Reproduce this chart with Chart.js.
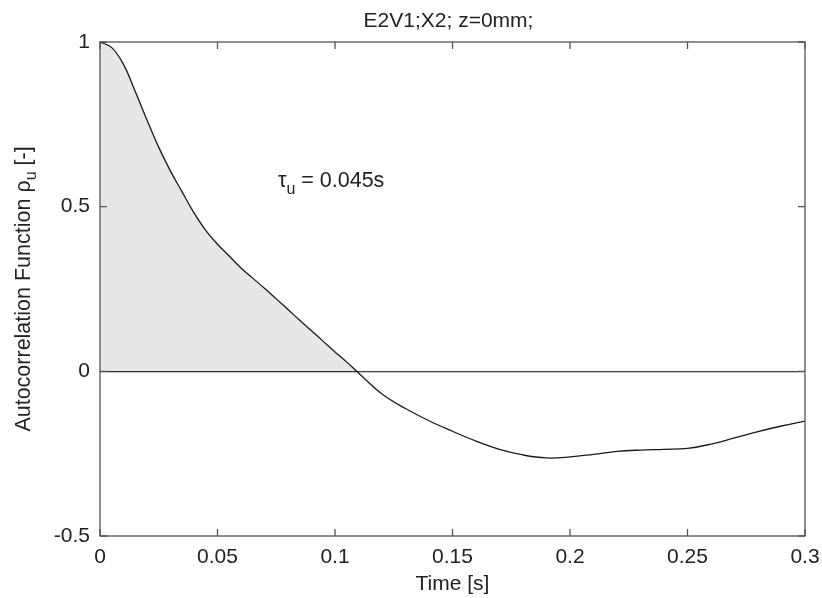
<!DOCTYPE html>
<html>
<head>
<meta charset="utf-8">
<script src="https://cdn.jsdelivr.net/npm/chart.js@4.4.1/dist/chart.umd.min.js"></script>
<style>
  html, body { margin: 0; padding: 0; background: #fff; }
  #wrap { width: 822px; height: 598px; }
</style>
</head>
<body>
<div id="wrap"><canvas id="c"></canvas></div>
<script>
/* ---------- data ---------- */
const timeS = [0, 0.005, 0.01, 0.015, 0.02, 0.025, 0.03, 0.035, 0.04, 0.045,
  0.05, 0.055, 0.06, 0.065, 0.07, 0.075, 0.08, 0.085, 0.09, 0.095,
  0.1, 0.105, 0.11, 0.12, 0.13, 0.14, 0.15, 0.16, 0.17, 0.18,
  0.19, 0.2, 0.21, 0.22, 0.23, 0.24, 0.25, 0.26, 0.27, 0.28, 0.29, 0.3];
const rhoU = [1.0, 0.983, 0.932, 0.850, 0.763, 0.680, 0.608, 0.544, 0.481, 0.428,
  0.386, 0.350, 0.314, 0.283, 0.252, 0.220, 0.188, 0.155, 0.123, 0.091,
  0.059, 0.028, -0.005, -0.069, -0.113, -0.150, -0.182, -0.212, -0.237, -0.254,
  -0.263, -0.260, -0.252, -0.243, -0.239, -0.237, -0.234, -0.221, -0.202, -0.183, -0.166, -0.151];

const xTickValues = [0, 0.05, 0.1, 0.15, 0.2, 0.25, 0.3];
const xTickLabels = ['0', '0.05', '0.1', '0.15', '0.2', '0.25', '0.3'];
const yTickValues = [-0.5, 0, 0.5, 1];
const yTickLabels = ['-0.5', '0', '0.5', '1'];

const chartTitle = 'E2V1;X2; z=0mm;';
const xTitle = 'Time [s]';
const yTitle = ['Autocorrelation Function ρ', 'u', ' [-]'];
const tauText = ['τ', 'u', ' = 0.045s'];
const tauAt = { x: 0.0757, y: 0.56 };

/* ---------- style ---------- */
const FONT = '"Liberation Sans", Arial, sans-serif';
const TXT = '#222';
const FRAME = '#555';

// draws "main + subscript + rest" starting at (x, y) baseline
function drawSubText(ctx, parts, x, y, size, subSize, subDrop) {
  ctx.font = size + 'px ' + FONT;
  ctx.fillText(parts[0], x, y);
  x += ctx.measureText(parts[0]).width;
  ctx.font = subSize + 'px ' + FONT;
  ctx.fillText(parts[1], x, y + subDrop);
  x += ctx.measureText(parts[1]).width;
  ctx.font = size + 'px ' + FONT;
  ctx.fillText(parts[2], x, y);
}

function subTextWidth(ctx, parts, size, subSize) {
  ctx.font = size + 'px ' + FONT;
  let w = ctx.measureText(parts[0]).width + ctx.measureText(parts[2]).width;
  ctx.font = subSize + 'px ' + FONT;
  return w + ctx.measureText(parts[1]).width;
}

/* ---------- frame, inward ticks, title, labels with subscripts ---------- */
const framePlugin = {
  id: 'frame',
  afterDatasetsDraw(chart) {
    const { ctx, chartArea: a, scales: { x, y } } = chart;
    const tl = 7;
    ctx.save();
    ctx.strokeStyle = FRAME;
    ctx.lineWidth = 1.3;
    ctx.strokeRect(a.left, a.top, a.right - a.left, a.bottom - a.top);
    ctx.beginPath();
    xTickValues.forEach(v => {
      const px = x.getPixelForValue(v);
      ctx.moveTo(px, a.bottom); ctx.lineTo(px, a.bottom - tl);
      ctx.moveTo(px, a.top); ctx.lineTo(px, a.top + tl);
    });
    yTickValues.forEach(v => {
      const py = y.getPixelForValue(v);
      ctx.moveTo(a.left, py); ctx.lineTo(a.left + tl, py);
      ctx.moveTo(a.right, py); ctx.lineTo(a.right - tl, py);
    });
    ctx.stroke();

    ctx.fillStyle = TXT;
    ctx.textBaseline = 'alphabetic';

    // chart title, centred over the plot
    ctx.textAlign = 'center';
    ctx.font = '21px ' + FONT;
    ctx.fillText(chartTitle, (a.left + a.right) / 2 - 4, 27);

    ctx.textAlign = 'left';
    // tau annotation
    drawSubText(ctx, tauText, x.getPixelForValue(tauAt.x), y.getPixelForValue(tauAt.y), 21.5, 16, 7);

    // y axis title, rotated
    const w = subTextWidth(ctx, yTitle, 21.5, 16);
    ctx.translate(29.5, (a.top + a.bottom) / 2);
    ctx.rotate(-Math.PI / 2);
    drawSubText(ctx, yTitle, -w / 2, 0, 21.5, 16, 6);
    ctx.restore();
  }
};

/* ---------- chart ---------- */
new Chart(document.getElementById('c'), {
  type: 'line',
  data: {
    datasets: [{
      data: timeS.map((t, i) => ({ x: t, y: rhoU[i] })),
      borderColor: '#1a1a1a',
      borderWidth: 1.3,
      pointRadius: 0,
      tension: 0.4,
      fill: { target: 'origin', above: '#e6e7e9', below: 'rgba(0,0,0,0)' }
    }]
  },
  options: {
    responsive: true,
    maintainAspectRatio: false,
    animation: false,
    layout: { padding: { left: 0, right: 17, top: 42, bottom: 0 } },
    plugins: {
      legend: { display: false },
      tooltip: { enabled: false },
      title: { display: false }
    },
    scales: {
      x: {
        type: 'linear',
        min: 0,
        max: 0.3,
        afterBuildTicks: s => { s.ticks = xTickValues.map(v => ({ value: v })); },
        afterFit: s => { s.height = 62; s.paddingLeft = 0; s.paddingRight = 0; },
        grid: { display: false, drawTicks: false },
        border: { display: false },
        ticks: {
          color: TXT,
          padding: 9,
          maxRotation: 0,
          autoSkip: false,
          font: { family: FONT, size: 21 },
          callback: (v, i) => xTickLabels[i]
        },
        title: {
          display: true,
          text: xTitle,
          color: TXT,
          font: { family: FONT, size: 21 },
          padding: { top: 0, bottom: 1 }
        }
      },
      y: {
        type: 'linear',
        min: -0.5,
        max: 1,
        afterBuildTicks: s => { s.ticks = yTickValues.map(v => ({ value: v })); },
        afterFit: s => { s.width = 100; s.paddingTop = 0; s.paddingBottom = 0; },
        grid: {
          drawTicks: false,
          color: c => (c.tick && c.tick.value === 0) ? '#222' : 'rgba(0,0,0,0)',
          lineWidth: 1.2
        },
        border: { display: false },
        ticks: {
          color: TXT,
          padding: 10,
          autoSkip: false,
          font: { family: FONT, size: 21 },
          callback: (v, i) => yTickLabels[i]
        }
      }
    }
  },
  plugins: [framePlugin]
});
</script>
</body>
</html>
